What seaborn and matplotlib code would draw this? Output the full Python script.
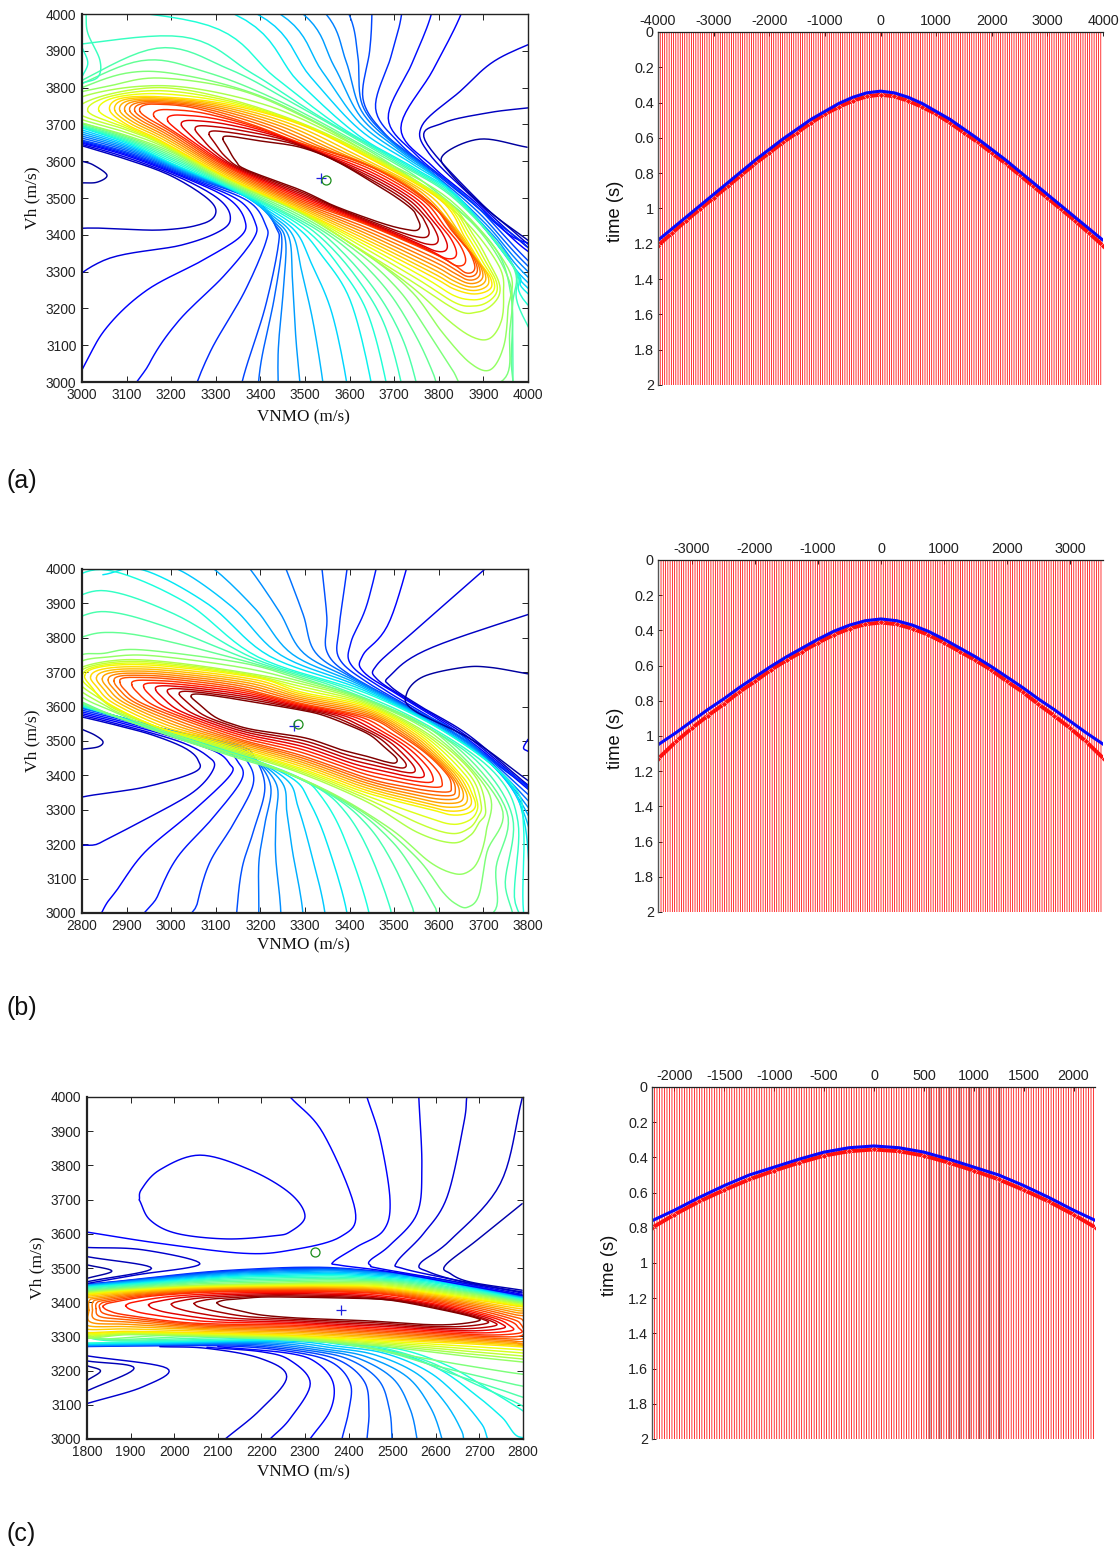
import numpy as np
import matplotlib
matplotlib.use("Agg")
import matplotlib.pyplot as plt
import seaborn as sns

# ---------- contour traces: (VNMO, Vh) along each level ----------
A_L02 = [(2950,3660),(3100,3605),(3200,3560),(3280,3500),(3300,3460),(3270,3430),(3175,3413),(2950,3410),(2850,3300),(2850,3000),(2850,2700),(4200,2800),(4200,3150),(3990,3385),(3887,3495),(3769,3657),(3810,3704),(3908,3731),(4000,3745),(4200,3770)]
A_L04 = [(2950,3665),(3100,3615),(3250,3545),(3332,3495),(3365,3440),(3355,3395),(3271,3331),(3146,3250),(3056,3149),(3000,3033),(2900,2800),(4200,2800),(4100,3300),(4000,3355),(3880,3490),(3787,3585),(3715,3690),(3787,3848),(3850,4000),(3870,4100)]
A_L07 = [(2950,3672),(3100,3625),(3250,3555),(3392,3490),(3435,3420),(3440,3370),(3410,3200),(3359,3000),(3340,2850),(3340,2700),(4100,2700),(4200,3100),(4000,3330),(3870,3495),(3750,3605),(3675,3680),(3630,3770),(3645,3900),(3650,4000),(3650,4150)]
A_L13 = [(2950,3710),(3100,3650),(3200,3595),(3325,3530),(3420,3470),(3489,3413),(3534,3350),(3601,3223),(3648,3000),(3660,2850),(4100,2800),(4200,3050),(4000,3240),(3975,3300),(3850,3495),(3750,3578),(3620,3670),(3486,3815),(3341,4000),(2900,4150)]
A_L16 = [(2950,3715),(3100,3660),(3200,3610),(3325,3538),(3489,3440),(3563,3378),(3652,3258),(3713,3133),(3749,3000),(3770,2850),(3960,2850),(3966,3000),(3965,3200),(3965,3318),(3838,3495),(3700,3600),(3489,3747),(3330,3850),(3168,3907),(2950,3790)]
A_L19 = [(2950,3725),(3100,3670),(3200,3625),(3325,3545),(3489,3459),(3646,3340),(3742,3242),(3809,3133),(3870,3052),(3915,3033),(3945,3095),(3955,3196),(3955,3310),(3825,3495),(3639,3625),(3511,3712),(3354,3793),(3175,3826),(3063,3805),(2950,3770)]
A_L21 = [(2990,3732),(3100,3685),(3175,3648),(3325,3552),(3489,3462),(3601,3378),(3735,3277),(3841,3195),(3886,3190),(3915,3205),(3935,3235),(3935,3270),(3915,3320),(3880,3395),(3815,3495),(3639,3620),(3489,3705),(3325,3770),(3175,3800),(3040,3775)]
A_L24 = [(3062,3739),(3100,3700),(3175,3657),(3325,3557),(3489,3467),(3639,3378),(3787,3285),(3830,3255),(3870,3240),(3900,3243),(3918,3258),(3915,3285),(3895,3320),(3860,3390),(3803,3495),(3639,3611),(3489,3700),(3325,3755),(3175,3775),(3085,3770)]
A_L30 = [(3130,3735),(3150,3715),(3200,3680),(3325,3584),(3489,3494),(3639,3427),(3787,3350),(3835,3318),(3860,3297),(3877,3300),(3880,3320),(3865,3360),(3830,3410),(3773,3495),(3639,3590),(3489,3650),(3380,3700),(3250,3745),(3165,3755),(3135,3750)]
A_L36 = [(3316,3660),(3325,3640),(3345,3600),(3370,3576),(3489,3522),(3563,3480),(3640,3445),(3690,3425),(3725,3415),(3750,3412),(3758,3425),(3750,3450),(3742,3467),(3713,3495),(3668,3530),(3570,3600),(3489,3638),(3400,3655),(3350,3665),(3322,3668)]
A_EXTRA = [
    (0.03,[(3000,3600),(3025,3590),(3056,3562),(3034,3543),(3000,3541)]),
    (0.03,[(3998,3638),(3892,3660),(3810,3617),(3825,3568),(3910,3467),(4000,3385)]),
    (0.42,[(3009,4000),(3013,3948),(3040,3875),(3036,3829),(3000,3812)]),
    (0.40,[(3000,3910),(3013,3867),(3000,3829)]),
]
A_PLUS, A_RING = (3536,3554), (3547,3549)

B_L02 = [(2750,3585),(2800,3570),(2880,3545),(2959,3517),(3030,3480),(3060,3445),(3053,3410),(2941,3366),(2800,3337),(2700,3300),(2700,2700),(3900,2700),(3900,3280),(3800,3372),(3667,3517),(3560,3600),(3491,3660),(3491,3690),(3587,3773),(3900,3910)]
B_L04 = [(2750,3595),(2880,3555),(3008,3510),(3098,3470),(3130,3435),(3132,3400),(3047,3294),(2941,3177),(2880,3070),(2845,3003),(2800,2850),(3900,2800),(3900,3250),(3800,3360),(3660,3510),(3520,3625),(3432,3700),(3430,3750),(3491,3852),(3560,4150)]
B_L07 = [(2750,3610),(2880,3570),(3000,3530),(3150,3488),(3188,3450),(3210,3363),(3185,3240),(3159,3131),(3147,3003),(3140,2850),(3900,2800),(3900,3230),(3800,3345),(3650,3517),(3530,3600),(3401,3692),(3349,3760),(3349,3860),(3338,4000),(3330,4100)]
B_L13 = [(2750,3625),(2800,3602),(2930,3550),(3050,3505),(3180,3448),(3289,3392),(3334,3343),(3385,3227),(3443,3003),(3450,2850),(3820,2850),(3790,3003),(3790,3250),(3766,3372),(3625,3517),(3439,3638),(3195,3744),(3031,3904),(2856,3997),(2750,3960)]
B_L17 = [(2790,3625),(2896,3563),(3008,3510),(3150,3450),(3289,3392),(3439,3285),(3551,3160),(3609,3061),(3640,3025),(3665,3017),(3690,3052),(3708,3177),(3740,3310),(3600,3517),(3439,3620),(3289,3680),(3159,3727),(2934,3765),(2850,3755),(2790,3740)]
B_L19 = [(2790,3655),(2850,3605),(2896,3575),(3008,3523),(3150,3465),(3289,3407),(3439,3323),(3551,3235),(3630,3204),(3670,3225),(3690,3262),(3705,3300),(3680,3400),(3580,3517),(3439,3612),(3289,3667),(3159,3700),(2990,3730),(2880,3735),(2790,3708)]
B_L22 = [(2806,3690),(2820,3660),(2858,3610),(2970,3540),(3082,3503),(3289,3421),(3439,3349),(3587,3299),(3630,3285),(3665,3290),(3682,3310),(3675,3345),(3650,3401),(3558,3517),(3439,3600),(3289,3643),(3195,3683),(3008,3715),(2900,3722),(2830,3712)]
B_L28 = [(2885,3671),(2895,3650),(2934,3610),(3047,3552),(3159,3503),(3289,3459),(3439,3392),(3520,3368),(3580,3355),(3621,3352),(3628,3365),(3620,3400),(3575,3460),(3513,3517),(3439,3570),(3289,3610),(3150,3655),(3000,3680),(2920,3685),(2890,3682)]
B_L34 = [(3045,3628),(3060,3610),(3098,3570),(3140,3548),(3188,3532),(3300,3509),(3380,3475),(3440,3455),(3480,3440),(3502,3436),(3505,3450),(3480,3480),(3446,3517),(3400,3545),(3340,3575),(3290,3590),(3200,3610),(3130,3625),(3075,3635),(3050,3636)]
B_EXTRA = [
    (0.03,[(2800,3534),(2829,3517),(2847,3498),(2836,3483),(2800,3476)]),
    (0.03,[(3801,3695),(3715,3714),(3655,3714),(3565,3687),(3528,3638),(3543,3590),(3675,3503),(3800,3385)]),
    (0.10,[(3800,3505),(3790,3480),(3800,3470)]),
]
B_PLUS, B_RING = (3275,3545), (3285,3549)

C_L06 = [(1780,3270),(1900,3272),(2120,3272),(2266,3256),(2360,3225),(2404,3162),(2400,3080),(2385,3001),(2370,2900),(2850,2900),(2850,3412),(2800,3418),(2700,3443),(2572,3475),(2400,3498),(2289,3502),(2150,3495),(2044,3485),(1900,3465),(1780,3450)]
C_L10 = [(1780,3274),(1900,3276),(2200,3282),(2350,3262),(2442,3240),(2534,3182),(2587,3094),(2614,3001),(2630,2900),(2850,2900),(2850,3408),(2800,3413),(2700,3440),(2572,3473),(2400,3490),(2289,3490),(2150,3485),(2044,3476),(1900,3460),(1780,3447)]
C_L14 = [(1780,3280),(1900,3283),(2280,3292),(2400,3280),(2526,3260),(2633,3211),(2725,3142),(2798,3084),(2850,3040),(2870,3100),(2850,3403),(2800,3408),(2700,3432),(2572,3460),(2400,3476),(2289,3476),(2150,3473),(2044,3465),(1900,3452),(1780,3442)]
C_L19 = [(1780,3395),(1780,3300),(1900,3305),(2100,3300),(2266,3295),(2400,3280),(2495,3269),(2650,3245),(2800,3225),(2830,3220),(2830,3400),(2800,3398),(2700,3420),(2495,3455),(2380,3458),(2266,3456),(2050,3450),(1900,3440),(1800,3430),(1780,3428)]
C_L24 = [(1780,3370),(1780,3315),(1900,3315),(2100,3310),(2266,3304),(2400,3295),(2495,3289),(2650,3280),(2800,3269),(2830,3262),(2830,3390),(2800,3386),(2700,3405),(2495,3440),(2380,3446),(2266,3446),(2050,3442),(1900,3432),(1800,3421),(1780,3415)]
C_L31 = [(1837,3386),(1850,3375),(1892,3362),(2043,3339),(2266,3333),(2400,3325),(2495,3319),(2624,3310),(2724,3304),(2793,3310),(2790,3325),(2763,3348),(2649,3386),(2495,3421),(2380,3430),(2266,3432),(2100,3430),(1950,3418),(1860,3400),(1840,3392)]
C_L36 = [(2098,3398),(2110,3388),(2150,3375),(2197,3363),(2266,3355),(2350,3350),(2450,3345),(2571,3335),(2640,3335),(2697,3345),(2690,3355),(2617,3377),(2495,3406),(2390,3412),(2266,3415),(2200,3415),(2150,3410),(2120,3407),(2105,3403),(2100,3400)]
C_EXTRA = [
    (0.10,[(1920,3699),(1945,3640),(2006,3601),(2120,3585),(2228,3594),(2266,3606),(2300,3651),(2266,3718),(2174,3787),(2059,3830),(1967,3787),(1925,3730),(1920,3699)]),
    (0.11,[(1800,3605),(1967,3572),(2159,3543),(2266,3552),(2381,3591),(2415,3669),(2342,3893),(2266,4000)]),
    (0.12,[(2798,3420),(2649,3454),(2495,3489),(2381,3508),(2365,3518),(2419,3562),(2480,3610),(2495,3698),(2473,3874),(2442,4000)]),
    (0.10,[(2798,3423),(2649,3459),(2473,3498),(2450,3508),(2450,3523),(2495,3567),(2557,3659),(2568,3796),(2561,4000)]),
    (0.08,[(2798,3427),(2649,3464),(2526,3498),(2511,3518),(2572,3601),(2626,3708),(2664,3922),(2671,4000)]),
    (0.06,[(2798,3430),(2664,3459),(2583,3489),(2564,3513),(2633,3581),(2748,3747),(2798,3996)]),
    (0.04,[(2798,3435),(2679,3459),(2633,3484),(2622,3508),(2694,3581),(2798,3688)]),
    (0.07,[(1801,3560),(1929,3553),(2059,3512),(1914,3480),(1801,3455)]),
    (0.05,[(1801,3533),(1948,3499),(1801,3460)]),
    (0.03,[(1801,3509),(1857,3491),(1801,3470)]),
    (0.07,[(1801,3243),(1983,3207),(1929,3153),(1801,3104)]),
    (0.05,[(1801,3228),(1908,3207),(1801,3141)]),
    (0.03,[(1801,3214),(1831,3199),(1801,3172)]),
    (0.08,[(1967,3270),(2075,3265),(2197,3236),(2258,3182),(2197,3085),(2117,3000)]),
    (0.10,[(2075,3268),(2200,3255),(2266,3230),(2312,3162),(2266,3060),(2220,3000)]),
    (0.13,[(2100,3270),(2266,3250),(2330,3220),(2365,3162),(2358,3084),(2312,3001)]),
]
C_PLUS, C_RING = (2382,3376), (2322,3547)

# ---------- gathers from the right-hand panels ----------
A_ABS = [0,250,500,750,1000,1250,1500,1750,2000,2250,2500,2750,3000,3250,3500,3750,4000]
A_BLUE = [.335,.345,.37,.405,.45,.495,.55,.605,.665,.725,.79,.855,.92,.985,1.05,1.115,1.18]
A_RED = [.355,.365,.39,.425,.465,.515,.57,.625,.685,.745,.81,.875,.94,1.005,1.07,1.14,1.21]
B_ABS = [0,250,500,750,1000,1250,1500,1750,2000,2250,2500,2750,3000,3250,3540]
B_BLUE = [.335,.345,.37,.405,.45,.5,.55,.605,.665,.725,.79,.85,.915,.98,1.05]
B_RED = [.355,.365,.39,.425,.47,.52,.57,.625,.69,.75,.82,.885,.955,1.03,1.13]
C_ABS = [0,250,500,750,1000,1250,1500,1750,2000,2225]
C_BLUE = [.335,.345,.37,.41,.455,.5,.56,.627,.70,.76]
C_RED = [.355,.365,.39,.43,.475,.525,.585,.65,.725,.80]
C_BLACK = [560,660,760,860,960,1060,1160,1260]

A_TRACE_STEP, B_TRACE_STEP, C_TRACE_STEP = 40.0, 36.0, 25.0
A_XT = [-4000,-3000,-2000,-1000,0,1000,2000,3000,4000]
B_XT = [-3000,-2000,-1000,0,1000,2000,3000]
C_XT = [-2000,-1500,-1000,-500,0,500,1000,1500,2000]
T_TICKS = [0,.2,.4,.6,.8,1,1.2,1.4,1.6,1.8,2]
T_LABELS = ['0','0.2','0.4','0.6','0.8','1','1.2','1.4','1.6','1.8','2']

sns.set_style("white")
plt.rcParams['font.family'] = ['Liberation Sans', 'DejaVu Sans']
W, H = 1120, 1553
fig = plt.figure(figsize=(W/100, H/100), dpi=100, facecolor='white')

def box(l, t, r, b):
    return fig.add_axes([l/W, 1-b/H, (r-l)/W, (b-t)/H])

def spline(pts, closed=False, n=10):
    p = np.asarray(pts, float)
    if closed:
        p = np.vstack([p[-1], p, p[0], p[1]])
    else:
        p = np.vstack([2*p[0]-p[1], p, 2*p[-1]-p[-2]])
    u = np.linspace(0, 1, n, endpoint=False)[:, None]
    out = []
    for i in range(1, len(p)-2):
        a, b, c, d = p[i-1], p[i], p[i+1], p[i+2]
        out.append(0.5*((2*b) + (c-a)*u + (2*a-5*b+4*c-d)*u**2 + (3*b-a-3*c+d)*u**3))
    out.append(p[len(p)-2][None])
    return np.vstack(out)

def trace(ax, pts, val, closed=False):
    s = spline(pts, closed)
    sns.lineplot(x=s[:, 0], y=s[:, 1], sort=False, estimator=None, ax=ax,
                 color=plt.cm.jet(val), lw=1.05, legend=False)

def semblance(ax, keys, lmax, closed_from, extra, plus, ring, xlim):
    levs = sorted(keys)
    for L in range(levs[0], lmax+1):
        j = min(np.searchsorted(levs, L), len(levs)-1)
        hi = levs[j]; lo = levs[max(j-1, 0)]
        f = 0 if hi == lo else (L-lo)/(hi-lo)
        pts = (1-f)*np.asarray(keys[lo], float) + f*np.asarray(keys[hi], float)
        trace(ax, pts, L/lmax, closed=L >= closed_from)
    for val, pts in extra:
        trace(ax, pts, val)
    ax.plot(*plus, marker='+', ms=7, mew=0.9, color='#2020e0', ls='none')
    ax.plot(*ring, marker='o', ms=6.5, mew=0.9, mfc='none', color='#1a8c1a', ls='none')
    ax.set_xlim(*xlim); ax.set_ylim(3000, 4000)
    ax.set_xticks(np.arange(xlim[0], xlim[1]+1, 100))
    ax.set_yticks(np.arange(3000, 4001, 100))
    ax.tick_params(direction='in', length=4, width=0.7, labelsize=9.9, pad=4,
                   top=True, right=True, bottom=True, left=True, colors='#222222')
    for s, lw in (('left', 1.6), ('bottom', 1.6), ('top', 1.0), ('right', 1.0)):
        ax.spines[s].set_visible(True)
        ax.spines[s].set_linewidth(lw); ax.spines[s].set_color('#222222')
    ax.set_xlabel('VNMO (m/s)', family='Liberation Serif', fontsize=12.3, color='#111111')
    ax.set_ylabel('Vh (m/s)', family='Liberation Serif', fontsize=12.6, color='#111111')

def gather(ax, xlim, step, abs_off, blue, red, xt, black=()):
    half = np.arange(0, xlim[1], step)
    off = np.concatenate([-half[:0:-1], half])
    if len(black):
        ax.vlines(black, 0, 2, color='#401010', lw=0.6).set_snap(False)
    ax.vlines(off, 0, 2, color='#ff0000', lw=0.55).set_snap(False)
    x = np.array([-a for a in abs_off[:0:-1]] + list(abs_off))
    ab = np.array(blue[:0:-1] + blue); ar = np.array(red[:0:-1] + red)
    sns.lineplot(x=x, y=ar, sort=False, estimator=None, ax=ax, color='#ff1010', lw=2.8,
                 marker='D', ms=3, mew=0.3, mec='white', legend=False)
    sns.lineplot(x=x, y=ab, sort=False, estimator=None, ax=ax, color='#0808ff', lw=2.2, legend=False)
    ax.set_xlim(*xlim); ax.set_ylim(2, 0)
    ax.set_xticks(xt); ax.set_xticklabels([str(v) for v in xt])
    ax.set_yticks(T_TICKS); ax.set_yticklabels(T_LABELS)
    ax.xaxis.tick_top()
    ax.tick_params(direction='in', length=3, width=0.7, labelsize=10.4, pad=3, colors='#222222',
                   top=True, bottom=False, left=True, right=False)
    for s in ('right', 'bottom'):
        ax.spines[s].set_visible(False)
    ax.spines['top'].set_visible(True); ax.spines['top'].set_color('#222222'); ax.spines['top'].set_linewidth(0.9)
    ax.spines['left'].set_visible(True); ax.spines['left'].set_color('#555555'); ax.spines['left'].set_linewidth(1.0)
    ax.set_xlabel(''); ax.set_ylabel('time (s)', fontsize=13.2, color='#111111')

# (a)
ax = box(82, 14, 528, 382)
semblance(ax, {2:A_L02,4:A_L04,7:A_L07,13:A_L13,16:A_L16,19:A_L19,21:A_L21,24:A_L24,30:A_L30,36:A_L36},
          36, 19, A_EXTRA, A_PLUS, A_RING, (3000, 4000))
ax.xaxis.set_label_coords(221/446, -27/368); ax.yaxis.set_label_coords(-42/446, 184/368)
ax = box(658, 32, 1103, 385)
gather(ax, (-4000, 4000), A_TRACE_STEP, A_ABS, A_BLUE, A_RED, A_XT)
ax.yaxis.set_label_coords(-34/445, 1-179/353)
# (b)
ax = box(82, 569, 528, 913)
semblance(ax, {2:B_L02,4:B_L04,7:B_L07,13:B_L13,17:B_L17,19:B_L19,22:B_L22,28:B_L28,34:B_L34},
          34, 17, B_EXTRA, B_PLUS, B_RING, (2800, 3800))
ax.xaxis.set_label_coords(221/446, -24/344); ax.yaxis.set_label_coords(-42/446, 172/344)
ax = box(658, 560, 1103, 912)
gather(ax, (-3540, 3524), B_TRACE_STEP, B_ABS, B_BLUE, B_RED, B_XT)
ax.yaxis.set_label_coords(-34/445, 1-178/352)
# (c)
ax = box(87, 1097, 523, 1439)
semblance(ax, {6:C_L06,10:C_L10,14:C_L14,19:C_L19,24:C_L24,31:C_L31,36:C_L36},
          36, 19, C_EXTRA, C_PLUS, C_RING, (1800, 2800))
ax.xaxis.set_label_coords(216/436, -25/342); ax.yaxis.set_label_coords(-42/436, 171/342)
ax = box(652, 1087, 1095, 1439)
gather(ax, (-2225, 2215), C_TRACE_STEP, C_ABS, C_BLUE, C_RED, C_XT, C_BLACK)
ax.yaxis.set_label_coords(-34/443, 1-178/352)

for lab, py in (('(a)', 481), ('(b)', 1008), ('(c)', 1534)):
    fig.text(7/W, 1-py/H, lab, fontsize=18, va='center', ha='left', color='#111111')

fig.savefig('out.png', dpi=100, facecolor='white')
